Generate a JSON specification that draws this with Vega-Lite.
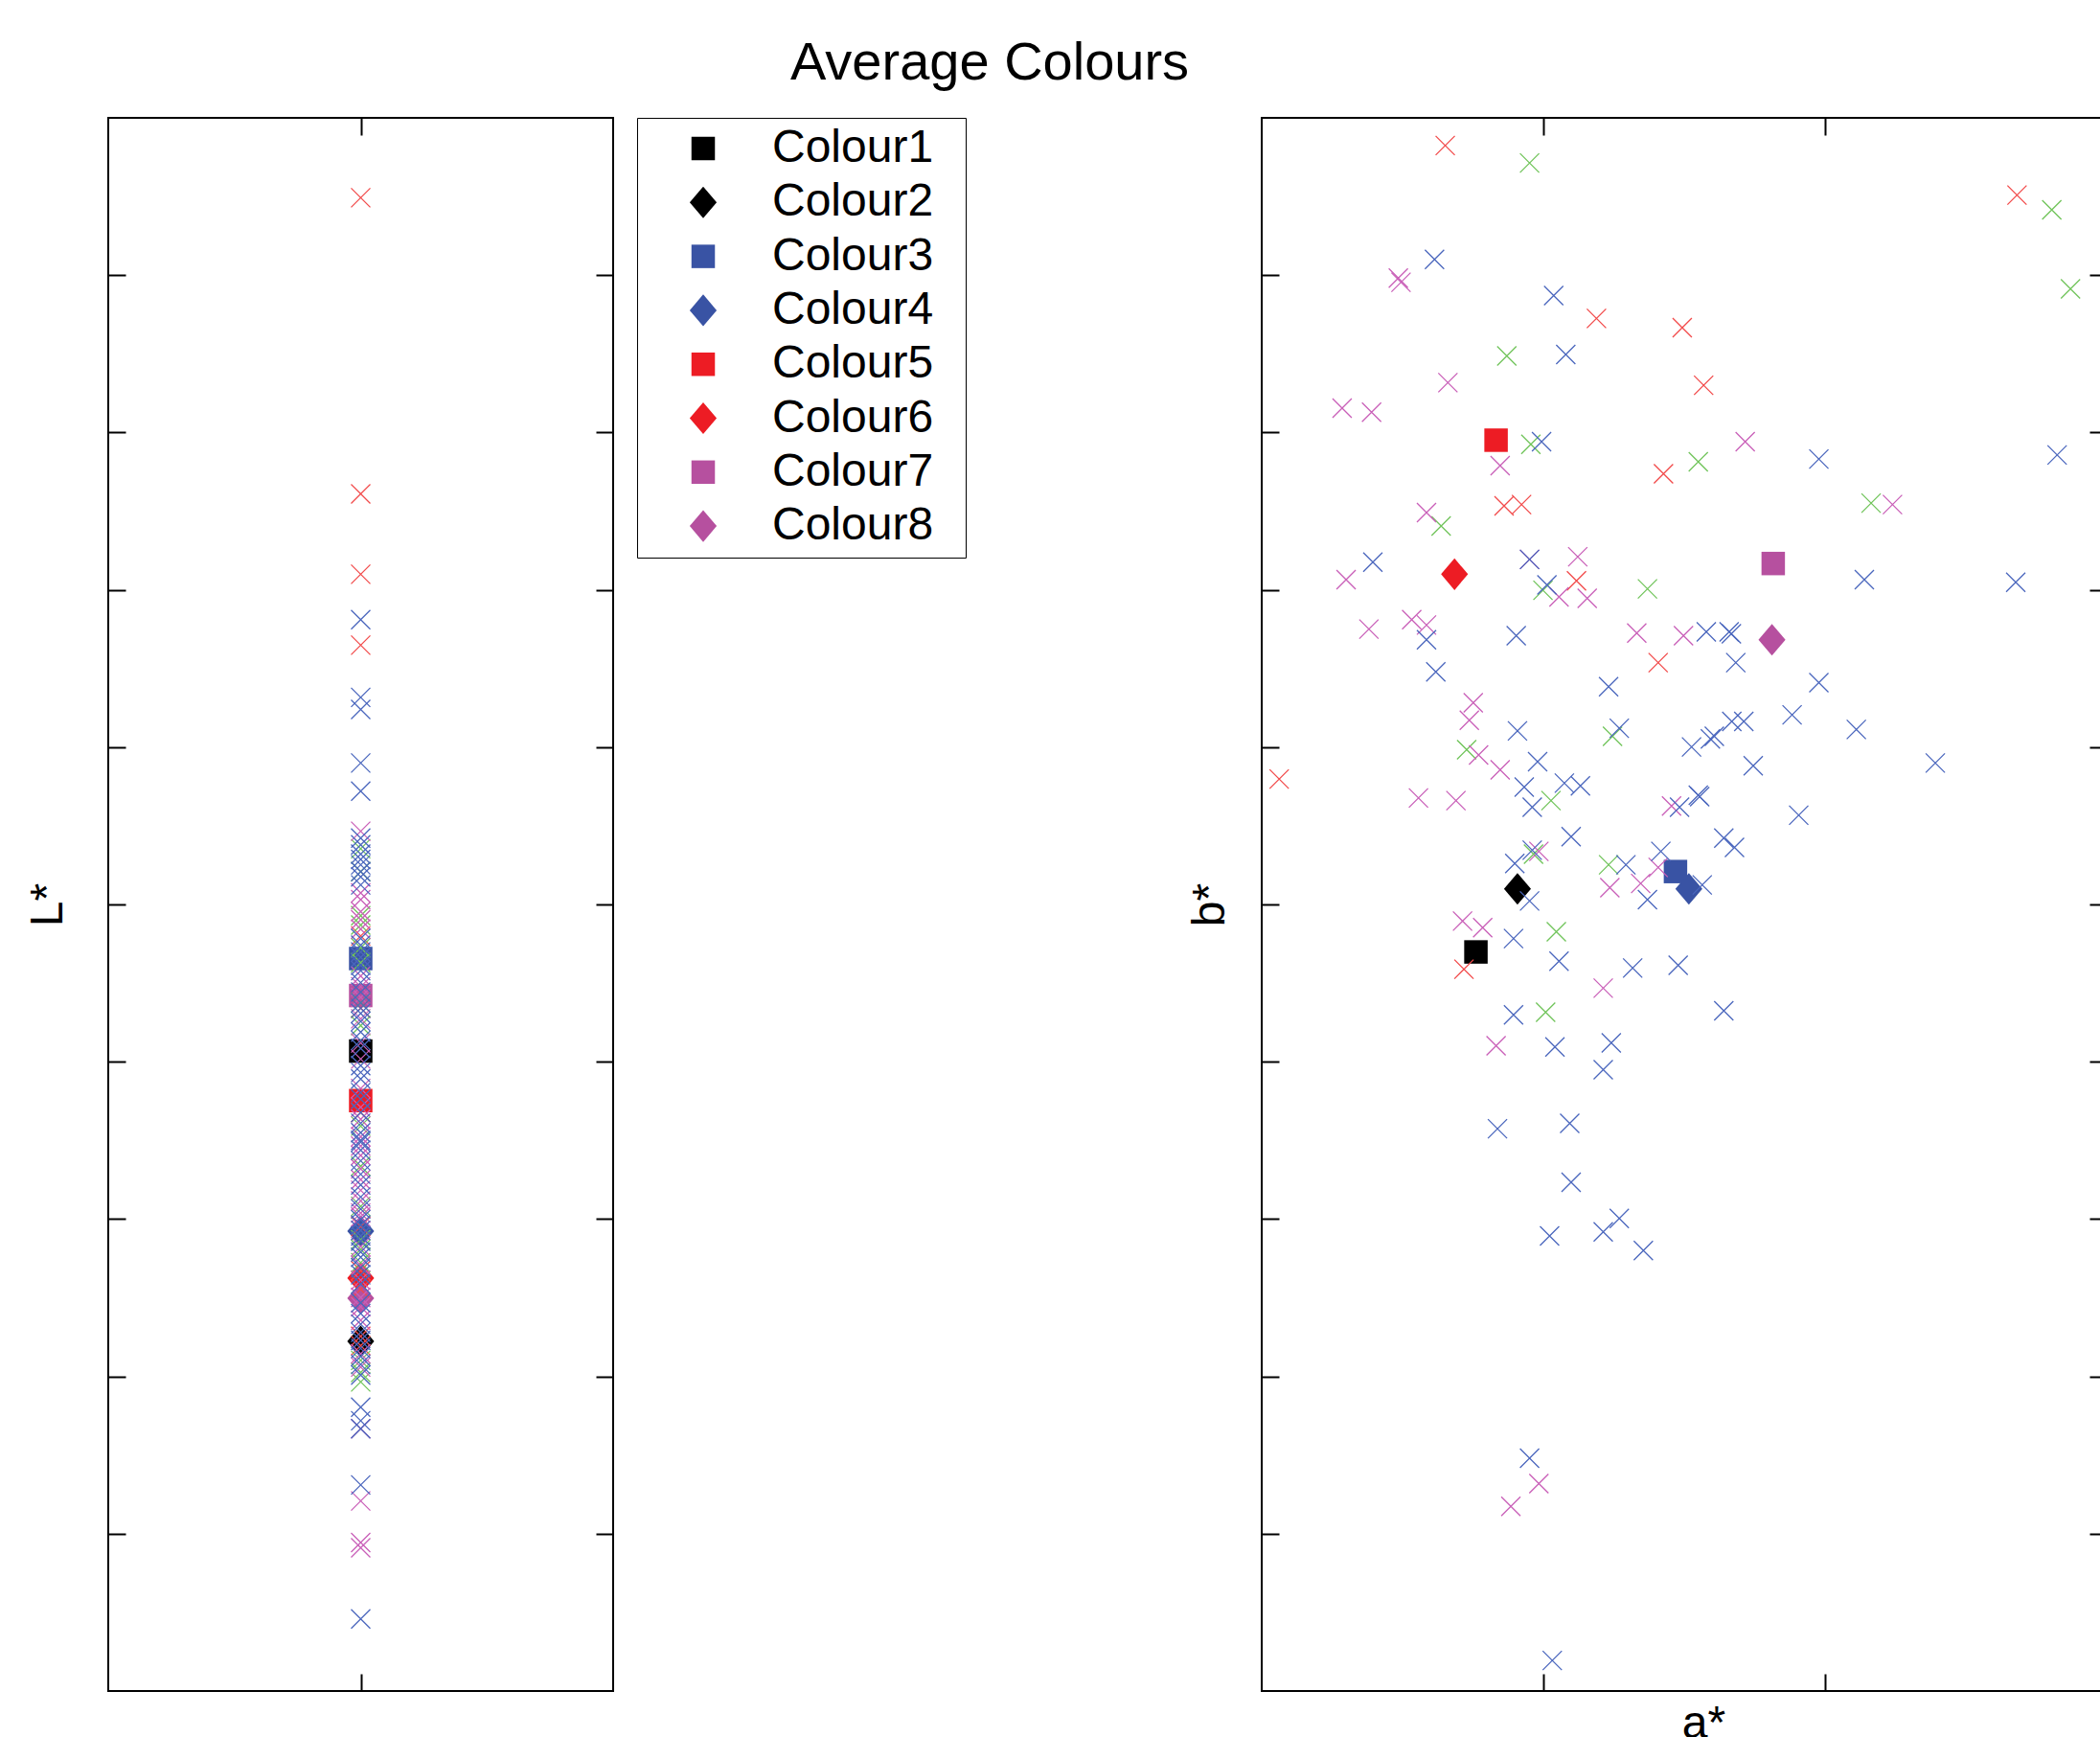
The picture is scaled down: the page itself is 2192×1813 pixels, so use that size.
{
  "$schema": "https://vega.github.io/schema/vega-lite/v6.json",
  "background": "white",
  "padding": {"left": 25, "top": 38, "right": 0, "bottom": 0},
  "title": {"text": "Average Colours", "anchor": "start", "frame": "bounds", "dx": 800, "fontSize": 56, "font": "Liberation Sans", "fontWeight": "normal", "color": "black", "baseline": "alphabetic", "offset": -18},
  "config": {
    "font": "Liberation Sans",
    "view": {"stroke": "black", "strokeWidth": 2},
    "axis": {"labels": false, "grid": false, "domain": false, "ticks": true, "tickSize": -18, "tickColor": "black", "tickWidth": 2, "titleFont": "Liberation Sans", "titleFontSize": 48, "titleFontWeight": "normal", "titleColor": "black", "minExtent": 0, "maxExtent": 0, "titleBaseline": "alphabetic"}
  },
  "datasets": {
    "means": [
      {"name": "Colour1", "a": -14.79, "b": -3.02, "L": 40.68},
      {"name": "Colour2", "a": -11.84, "b": 0.99, "L": 22.23},
      {"name": "Colour3", "a": -0.62, "b": 2.09, "L": 46.56},
      {"name": "Colour4", "a": 0.33, "b": 0.99, "L": 29.23},
      {"name": "Colour5", "a": -13.36, "b": 29.51, "L": 37.53},
      {"name": "Colour6", "a": -16.31, "b": 20.99, "L": 26.25},
      {"name": "Colour7", "a": 6.32, "b": 21.67, "L": 44.21},
      {"name": "Colour8", "a": 6.23, "b": 16.82, "L": 24.97}
    ],
    "samples": [
      {"g": "R", "a": -16.97, "b": 48.24, "L": 94.92},
      {"g": "R", "a": 23.63, "b": 45.09, "L": 76.1},
      {"g": "R", "a": -6.23, "b": 37.25, "L": 70.99},
      {"g": "R", "a": -0.14, "b": 36.66, "L": 66.48},
      {"g": "R", "a": 1.38, "b": 33.0, "L": 48.0},
      {"g": "R", "a": -1.47, "b": 27.38, "L": 43.41},
      {"g": "R", "a": -12.79, "b": 25.33, "L": 36.77},
      {"g": "R", "a": -11.55, "b": 25.42, "L": 29.53},
      {"g": "R", "a": -7.65, "b": 20.57, "L": 26.72},
      {"g": "R", "a": -1.85, "b": 15.37, "L": 25.53},
      {"g": "R", "a": -28.76, "b": 7.97, "L": 22.55},
      {"g": "R", "a": -15.64, "b": -4.12, "L": 21.95},
      {"g": "G", "a": -10.98, "b": 47.13, "L": 53.54},
      {"g": "G", "a": 26.10, "b": 44.15, "L": 52.09},
      {"g": "G", "a": 27.43, "b": 39.13, "L": 49.28},
      {"g": "G", "a": -12.60, "b": 34.87, "L": 48.69},
      {"g": "G", "a": -10.89, "b": 29.25, "L": 47.24},
      {"g": "G", "a": 1.0, "b": 28.14, "L": 46.3},
      {"g": "G", "a": 13.27, "b": 25.51, "L": 43.75},
      {"g": "G", "a": -17.26, "b": 24.06, "L": 42.3},
      {"g": "G", "a": -10.03, "b": 19.97, "L": 35.91},
      {"g": "G", "a": -2.61, "b": 20.06, "L": 33.36},
      {"g": "G", "a": -5.09, "b": 10.69, "L": 30.81},
      {"g": "G", "a": -15.45, "b": 9.84, "L": 28.68},
      {"g": "G", "a": -9.46, "b": 6.6, "L": 28.08},
      {"g": "G", "a": -10.70, "b": 3.2, "L": 27.23},
      {"g": "G", "a": -5.37, "b": 2.52, "L": 21.02},
      {"g": "G", "a": -9.08, "b": -1.74, "L": 20.25},
      {"g": "G", "a": -9.84, "b": -6.85, "L": 19.65},
      {"g": "M", "a": -20.30, "b": 39.81, "L": 54.65},
      {"g": "M", "a": -20.11, "b": 39.55, "L": 50.73},
      {"g": "M", "a": -16.78, "b": 33.17, "L": 50.3},
      {"g": "M", "a": -24.29, "b": 31.55, "L": 49.54},
      {"g": "M", "a": -22.20, "b": 31.29, "L": 49.03},
      {"g": "M", "a": 4.33, "b": 29.42, "L": 48.43},
      {"g": "M", "a": -13.07, "b": 27.89, "L": 45.45},
      {"g": "M", "a": 14.79, "b": 25.42, "L": 44.77},
      {"g": "M", "a": -18.30, "b": 24.91, "L": 44.09},
      {"g": "M", "a": -10.98, "b": 21.93, "L": 42.73},
      {"g": "M", "a": -7.56, "b": 22.1, "L": 41.19},
      {"g": "M", "a": -24.01, "b": 20.65, "L": 40.17},
      {"g": "M", "a": -8.89, "b": 19.55, "L": 38.3},
      {"g": "M", "a": -6.89, "b": 19.46, "L": 37.11},
      {"g": "M", "a": -22.39, "b": 17.5, "L": 36.34},
      {"g": "M", "a": -19.35, "b": 18.1, "L": 35.23},
      {"g": "M", "a": -18.30, "b": 17.76, "L": 34.64},
      {"g": "M", "a": -3.37, "b": 17.25, "L": 34.04},
      {"g": "M", "a": -0.05, "b": 17.08, "L": 33.19},
      {"g": "M", "a": -14.98, "b": 12.82, "L": 32.51},
      {"g": "M", "a": -15.26, "b": 11.71, "L": 31.83},
      {"g": "M", "a": -14.60, "b": 9.5, "L": 31.15},
      {"g": "M", "a": -13.07, "b": 8.56, "L": 30.38},
      {"g": "M", "a": -18.87, "b": 6.77, "L": 30.13},
      {"g": "M", "a": -16.21, "b": 6.6, "L": 28.25},
      {"g": "M", "a": -0.90, "b": 6.26, "L": 27.06},
      {"g": "M", "a": -10.32, "b": 3.37, "L": 26.12},
      {"g": "M", "a": -1.85, "b": 2.35, "L": 25.02},
      {"g": "M", "a": -5.28, "b": 1.07, "L": 24.42},
      {"g": "M", "a": -3.09, "b": 1.33, "L": 23.57},
      {"g": "M", "a": -15.74, "b": -1.06, "L": 21.44},
      {"g": "M", "a": -14.31, "b": -1.48, "L": 20.59},
      {"g": "M", "a": -5.75, "b": -5.32, "L": 16.67},
      {"g": "M", "a": -13.36, "b": -8.98, "L": 12.08},
      {"g": "M", "a": -10.32, "b": -36.82, "L": 9.44},
      {"g": "M", "a": -12.31, "b": -38.26, "L": 9.1},
      {"g": "B", "a": -17.73, "b": 41.0, "L": 68.10},
      {"g": "B", "a": -9.27, "b": 38.7, "L": 63.16},
      {"g": "B", "a": -8.41, "b": 34.96, "L": 62.39},
      {"g": "B", "a": -10.13, "b": 29.42, "L": 58.99},
      {"g": "B", "a": 9.56, "b": 28.31, "L": 57.20},
      {"g": "B", "a": 26.48, "b": 28.57, "L": 18.04},
      {"g": "B", "a": -22.11, "b": 21.76, "L": 17.18},
      {"g": "B", "a": -10.98, "b": 21.93, "L": 16.67},
      {"g": "B", "a": -9.75, "b": 20.31, "L": 13.10},
      {"g": "B", "a": 12.79, "b": 20.65, "L": 4.58},
      {"g": "B", "a": 23.54, "b": 20.48, "L": 54.22},
      {"g": "B", "a": -18.30, "b": 16.82, "L": 53.79},
      {"g": "B", "a": -11.93, "b": 17.08, "L": 53.20},
      {"g": "B", "a": 1.57, "b": 17.33, "L": 52.86},
      {"g": "B", "a": 3.19, "b": 17.33, "L": 52.52},
      {"g": "B", "a": 3.35, "b": 17.2, "L": 52.09},
      {"g": "B", "a": 3.66, "b": 15.37, "L": 51.75},
      {"g": "B", "a": -17.64, "b": 14.78, "L": 51.24},
      {"g": "B", "a": -5.37, "b": 13.84, "L": 47.84},
      {"g": "B", "a": 9.56, "b": 14.1, "L": 47.41},
      {"g": "B", "a": -11.84, "b": 11.03, "L": 46.98},
      {"g": "B", "a": -4.61, "b": 11.2, "L": 46.64},
      {"g": "B", "a": 0.52, "b": 10.01, "L": 46.13},
      {"g": "B", "a": 1.86, "b": 10.52, "L": 45.79},
      {"g": "B", "a": 2.14, "b": 10.69, "L": 45.03},
      {"g": "B", "a": 3.38, "b": 11.63, "L": 44.43},
      {"g": "B", "a": 4.23, "b": 11.63, "L": 43.75},
      {"g": "B", "a": 7.66, "b": 12.05, "L": 43.07},
      {"g": "B", "a": 12.22, "b": 11.12, "L": 42.56},
      {"g": "B", "a": -10.41, "b": 9.07, "L": 41.88},
      {"g": "B", "a": -8.51, "b": 7.71, "L": 41.36},
      {"g": "B", "a": -7.37, "b": 7.54, "L": 40.85},
      {"g": "B", "a": 4.90, "b": 8.82, "L": 39.75},
      {"g": "B", "a": 17.83, "b": 8.99, "L": 39.32},
      {"g": "B", "a": -11.36, "b": 7.46, "L": 38.90},
      {"g": "B", "a": -10.79, "b": 6.18, "L": 38.04},
      {"g": "B", "a": -0.33, "b": 6.18, "L": 37.62},
      {"g": "B", "a": 1.0, "b": 6.94, "L": 36.77},
      {"g": "B", "a": 1.1, "b": 6.85, "L": 36.09},
      {"g": "B", "a": 8.13, "b": 5.67, "L": 35.49},
      {"g": "B", "a": -8.03, "b": 4.31, "L": 34.89},
      {"g": "B", "a": 2.81, "b": 4.22, "L": 34.38},
      {"g": "B", "a": 3.57, "b": 3.62, "L": 33.70},
      {"g": "B", "a": -12.03, "b": 2.6, "L": 32.85},
      {"g": "B", "a": -10.79, "b": 3.45, "L": 32.17},
      {"g": "B", "a": -4.14, "b": 2.52, "L": 31.40},
      {"g": "B", "a": -1.66, "b": 3.37, "L": 30.64},
      {"g": "B", "a": 1.28, "b": 1.24, "L": 29.96},
      {"g": "B", "a": -2.61, "b": 0.3, "L": 29.61},
      {"g": "B", "a": -10.98, "b": 0.22, "L": 29.28},
      {"g": "B", "a": -12.12, "b": -2.17, "L": 28.93},
      {"g": "B", "a": -8.89, "b": -3.61, "L": 28.59},
      {"g": "B", "a": -3.66, "b": -4.04, "L": 27.91},
      {"g": "B", "a": -0.43, "b": -3.87, "L": 27.57},
      {"g": "B", "a": -12.12, "b": -7.02, "L": 26.46},
      {"g": "B", "a": 2.81, "b": -6.76, "L": 25.87},
      {"g": "B", "a": -9.18, "b": -9.06, "L": 24.68},
      {"g": "B", "a": -5.18, "b": -8.8, "L": 24.00},
      {"g": "B", "a": -5.75, "b": -10.51, "L": 23.32},
      {"g": "B", "a": -13.26, "b": -14.26, "L": 22.80},
      {"g": "B", "a": -8.13, "b": -13.92, "L": 22.29},
      {"g": "B", "a": -8.03, "b": -17.66, "L": 21.78},
      {"g": "B", "a": -9.56, "b": -21.07, "L": 21.27},
      {"g": "B", "a": -5.75, "b": -20.81, "L": 20.76},
      {"g": "B", "a": -4.61, "b": -19.96, "L": 20.08},
      {"g": "B", "a": -2.90, "b": -22.0, "L": 43.4},
      {"g": "B", "a": -10.98, "b": -35.2, "L": 35.0},
      {"g": "B", "a": -9.37, "b": -48.06, "L": 26.9}
    ]
  },
  "spacing": 228,
  "resolve": {"scale": {"color": "independent", "shape": "independent"}, "legend": {"color": "independent", "shape": "independent"}},
  "hconcat": [
    {
      "width": 527,
      "height": 1642,
      "layer": [
        {
          "data": {"name": "means"},
          "mark": {"type": "point", "filled": true, "size": 600, "opacity": 1, "strokeWidth": 0},
          "encoding": {
            "x": {"datum": 0, "type": "quantitative", "scale": {"domain": [-1, 1], "nice": false, "zero": false}, "axis": {"orient": "top", "values": [0], "title": null}},
            "y": {"field": "L", "type": "quantitative", "scale": {"domain": [0, 100], "nice": false, "zero": false}, "axis": {"orient": "right", "values": [10, 20, 30, 40, 50, 60, 70, 80, 90], "title": null}},
            "color": {"field": "name", "type": "nominal", "scale": {"domain": ["Colour1", "Colour2", "Colour3", "Colour4", "Colour5", "Colour6", "Colour7", "Colour8"], "range": ["#000000", "#000000", "#3953a4", "#3953a4", "#ed1c24", "#ed1c24", "#b6509f", "#b6509f"]},
              "legend": {"orient": "none", "legendX": 552, "legendY": 0, "title": "\u00a0", "titleOrient": "right", "titlePadding": 26, "titleFontSize": 48, "titleAnchor": "start", "strokeColor": "black", "fillColor": "white", "padding": 8, "symbolSize": 600, "symbolOffset": 37, "labelOffset": 48, "labelFontSize": 48, "labelFont": "Liberation Sans", "labelColor": "black", "rowPadding": 8.3, "symbolStrokeWidth": 0, "labelLimit": 400, "direction": "vertical"}},
            "shape": {"field": "name", "type": "nominal", "scale": {"domain": ["Colour1", "Colour2", "Colour3", "Colour4", "Colour5", "Colour6", "Colour7", "Colour8"], "range": ["square", "M0,-1.35L1.15,0L0,1.35L-1.15,0Z", "square", "M0,-1.35L1.15,0L0,1.35L-1.15,0Z", "square", "M0,-1.35L1.15,0L0,1.35L-1.15,0Z", "square", "M0,-1.35L1.15,0L0,1.35L-1.15,0Z"]},
              "legend": {"orient": "none", "legendX": 552, "legendY": 0, "title": "\u00a0", "titleOrient": "right", "titlePadding": 26, "titleFontSize": 48, "titleAnchor": "start", "strokeColor": "black", "fillColor": "white", "padding": 8, "symbolSize": 600, "symbolOffset": 37, "labelOffset": 48, "labelFontSize": 48, "labelFont": "Liberation Sans", "labelColor": "black", "rowPadding": 8.3, "symbolStrokeWidth": 0, "labelLimit": 400, "direction": "vertical"}}
          }
        },
        {
          "data": {"name": "samples"},
          "mark": {"type": "point", "shape": "M-1,-1L1,1M-1,1L1,-1", "filled": false, "size": 400, "strokeWidth": 1.3, "opacity": 1},
          "encoding": {
            "x": {"datum": 0, "type": "quantitative", "scale": {"domain": [-1, 1], "nice": false, "zero": false}, "axis": {"orient": "bottom", "values": [0], "title": null}},
            "y": {"field": "L", "type": "quantitative", "scale": {"domain": [0, 100], "nice": false, "zero": false}, "axis": {"orient": "left", "values": [10, 20, 30, 40, 50, 60, 70, 80, 90], "title": "L*", "titlePadding": 49}},
            "color": {"field": "g", "type": "nominal", "scale": {"domain": ["R", "G", "B", "M"], "range": ["#f24a4a", "#70c45a", "#4a66bd", "#c95fb8"]}, "legend": null}
          }
        }
      ],
      "resolve": {"scale": {"color": "independent", "shape": "independent"}, "axis": {"x": "independent", "y": "independent"}}
    },
    {
      "width": 882,
      "height": 1642,
      "layer": [
        {
          "data": {"name": "means"},
          "mark": {"type": "point", "filled": true, "size": 600, "opacity": 1, "strokeWidth": 0},
          "encoding": {
            "x": {"field": "a", "type": "quantitative", "scale": {"domain": [-30, 30], "nice": false, "zero": false}, "axis": {"orient": "top", "values": [-10, 10], "title": null}},
            "y": {"field": "b", "type": "quantitative", "scale": {"domain": [-50, 50], "nice": false, "zero": false}, "axis": {"orient": "right", "values": [-40, -30, -20, -10, 0, 10, 20, 30, 40], "title": null}},
            "color": {"field": "name", "type": "nominal", "scale": {"domain": ["Colour1", "Colour2", "Colour3", "Colour4", "Colour5", "Colour6", "Colour7", "Colour8"], "range": ["#000000", "#000000", "#3953a4", "#3953a4", "#ed1c24", "#ed1c24", "#b6509f", "#b6509f"]}, "legend": null},
            "shape": {"field": "name", "type": "nominal", "scale": {"domain": ["Colour1", "Colour2", "Colour3", "Colour4", "Colour5", "Colour6", "Colour7", "Colour8"], "range": ["square", "M0,-1.35L1.15,0L0,1.35L-1.15,0Z", "square", "M0,-1.35L1.15,0L0,1.35L-1.15,0Z", "square", "M0,-1.35L1.15,0L0,1.35L-1.15,0Z", "square", "M0,-1.35L1.15,0L0,1.35L-1.15,0Z"]}, "legend": null}
          }
        },
        {
          "data": {"name": "samples"},
          "mark": {"type": "point", "shape": "M-1,-1L1,1M-1,1L1,-1", "filled": false, "size": 400, "strokeWidth": 1.3, "opacity": 1},
          "encoding": {
            "x": {"field": "a", "type": "quantitative", "scale": {"domain": [-30, 30], "nice": false, "zero": false}, "axis": {"orient": "bottom", "values": [-10, 10], "title": "a*", "titlePadding": 48, "titleX": 461}},
            "y": {"field": "b", "type": "quantitative", "scale": {"domain": [-50, 50], "nice": false, "zero": false}, "axis": {"orient": "left", "values": [-40, -30, -20, -10, 0, 10, 20, 30, 40], "title": "b*", "titlePadding": 40}},
            "color": {"field": "g", "type": "nominal", "scale": {"domain": ["R", "G", "B", "M"], "range": ["#f24a4a", "#70c45a", "#4a66bd", "#c95fb8"]}, "legend": null}
          }
        }
      ],
      "resolve": {"scale": {"color": "independent", "shape": "independent"}, "axis": {"x": "independent", "y": "independent"}}
    }
  ]
}
